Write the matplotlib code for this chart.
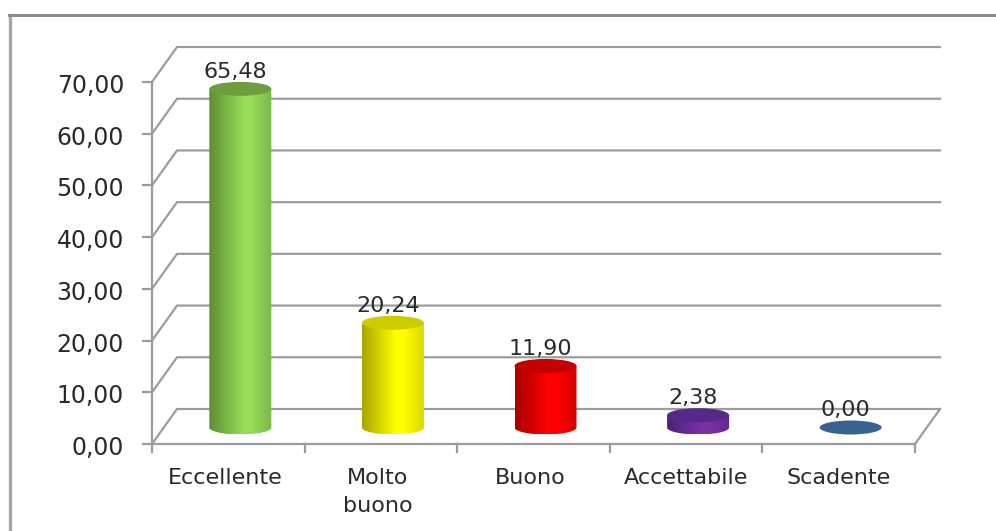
import numpy as np
import matplotlib
matplotlib.use("Agg")
import matplotlib.pyplot as plt
from matplotlib.lines import Line2D
from matplotlib.patches import Ellipse, PathPatch
from matplotlib.path import Path
from matplotlib.colors import LinearSegmentedColormap

categories = ["Eccellente", "Molto\nbuono", "Buono", "Accettabile", "Scadente"]
values = [65.48, 20.24, 11.90, 2.38, 0.00]
value_labels = ["65,48", "20,24", "11,90", "2,38", "0,00"]
tick_values = [0, 10, 20, 30, 40, 50, 60, 70]
tick_labels = ["0,00", "10,00", "20,00", "30,00", "40,00", "50,00", "60,00", "70,00"]
dark_colors = ["#5f8f33", "#a8a800", "#a80000", "#4a2377", "#3a628f"]
mid_colors = ["#96dc58", "#ffff00", "#ff0000", "#7a30a8", "#3a628f"]
right_colors = ["#7cb84a", "#dada00", "#d80000", "#642a90", "#3a628f"]
top_colors = ["#6c9e3e", "#cccc00", "#c40000", "#56288a", "#3a628f"]

W, H = 996, 531
GRID = "#9c9c9c"
TEXT = "#2a2a2a"

plt.rcParams["font.family"] = ["DejaVu Sans"]

fig = plt.figure(figsize=(W / 100, H / 100), dpi=100)
# front plane of the fake 3d box, in pixels: x 152-915, y 444-82
ax = fig.add_axes([152 / W, 1 - 444 / H, 763 / W, 362 / H])
ax.set_xlim(0, 5)
ax.set_ylim(0, 70)
ax.axis("off")

px = 5 / 763
py = 70 / 362
dx, dy = 25 * px, 35 * py

# outer frame, only top and left are in the picture
fig.add_artist(Line2D([9.5 / W, 9.5 / W], [0, 1 - 14.5 / H], color="#a6a6a6", lw=2.4))
fig.add_artist(Line2D([8.5 / W, 1], [1 - 14.5 / H, 1 - 14.5 / H], color="#8c8c8c", lw=2.2))

for t in tick_values:
    ax.plot([0, dx, 5 + dx], [t, t + dy, t + dy], color=GRID, lw=1.6, clip_on=False, zorder=1)
    ax.plot([-9 * px, 0], [t, t], color=GRID, lw=1.6, clip_on=False, zorder=1)
    ax.text(-28 * px, t - 4 * py, tick_labels[t // 10], ha="right", va="center", fontsize=17,
            color=TEXT, clip_on=False)
ax.plot([0, 0], [0, 70], color=GRID, lw=1.6, clip_on=False, zorder=1)
ax.plot([0, 5], [0, 0], color=GRID, lw=1.6, clip_on=False, zorder=1)
ax.plot([5, 5 + dx], [0, dy], color=GRID, lw=1.6, clip_on=False, zorder=1)
for i in range(6):
    ax.plot([i, i], [0, -8 * py], color=GRID, lw=1.6, clip_on=False, zorder=1)

half_w = 31 * px
ell_h = 14 * py
base = 16.5 * py

for i, v in enumerate(values):
    cx = i + 0.5 + 12 * px
    bottom = base
    top = base + v
    cmap = LinearSegmentedColormap.from_list(
        "cyl", [(0, dark_colors[i]), (0.55, mid_colors[i]), (0.68, mid_colors[i]), (1, right_colors[i])],
    )
    if v > 0:
        # body: straight sides with a rounded lower edge
        t = np.linspace(np.pi, 2 * np.pi, 40)
        xs = cx + half_w * np.cos(t)
        ys = bottom + ell_h / 2 * np.sin(t)
        verts = list(zip(xs, ys)) + [(cx + half_w, top), (cx - half_w, top), (cx - half_w, bottom)]
        patch = PathPatch(Path(verts), facecolor="none", edgecolor="none", transform=ax.transData)
        ax.add_patch(patch)
        grad = np.linspace(0, 1, 64).reshape(1, -1)
        im = ax.imshow(grad, cmap=cmap, vmin=0, vmax=1, aspect="auto", interpolation="bilinear",
                       extent=[cx - half_w, cx + half_w, bottom - ell_h / 2, top], zorder=3)
        im.set_clip_path(patch)
    ax.add_patch(Ellipse((cx, top), 2 * half_w, ell_h, facecolor=top_colors[i],
                         edgecolor="none", zorder=4, clip_on=False))
    ax.text(cx - 5 * px, top + 11 * py, value_labels[i], ha="center", va="baseline", fontsize=16,
            color=TEXT, zorder=5, clip_on=False)
    ax.text(i + 0.5 - 3 * px * (i < 3), -24 * py, categories[i], ha="center", va="top", fontsize=16,
            color=TEXT, clip_on=False, linespacing=1.5)

ax.set_xlim(0, 5)
ax.set_ylim(0, 70)

fig.savefig("out.png", dpi=100)
